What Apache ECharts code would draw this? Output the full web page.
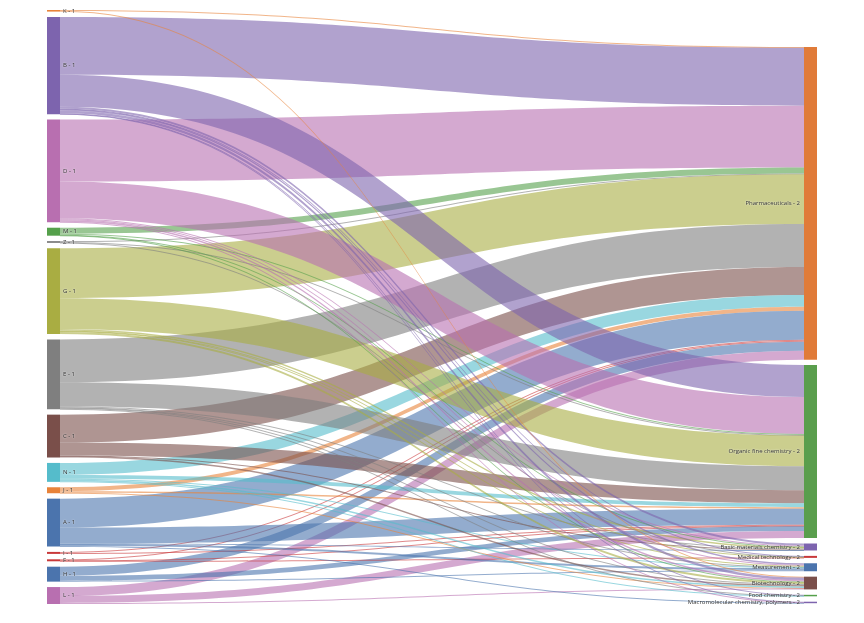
<!DOCTYPE html>
<html>
<head>
<meta charset="utf-8">
<script src="https://cdn.jsdelivr.net/npm/echarts@6/dist/echarts.min.js"></script>
<style>
html,body{margin:0;padding:0;background:#fff;}
#chart{width:864px;height:623px;}
</style>
</head>
<body>
<div id="chart"></div>
<script>
// Source nodes (left column, top to bottom)
const leftNodes = ['K - 1','B - 1','D - 1','M - 1','Z - 1','G - 1','E - 1','C - 1','N - 1','J - 1','A - 1','I - 1','F - 1','H - 1','L - 1'];
// Target nodes (right column, top to bottom)
const rightNodes = ['Pharmaceuticals - 2','Organic fine chemistry - 2','Basic materials chemistry - 2','Medical technology - 2','Measurement - 2','Biotechnology - 2','Food chemistry - 2','Macromolecular chemistry, polymers - 2'];

// Flow values from each left node (same order as leftNodes) to each target
const toPharmaceuticals = [0.8, 58, 62, 6, 0.8, 50, 43, 28, 12, 4, 29, 1, 1, 9, 9];
const toOrganicFine     = [0, 32, 37, 1, 0.5, 31, 24, 13, 4, 1.5, 16, 1, 0.5, 5, 7];
const toBasicMaterials  = [0, 2, 1, 0.5, 0, 1.5, 1, 0.5, 0, 0, 0.5, 0, 0, 0, 0];
const toMedicalTech     = [0, 0.5, 0, 0, 0.5, 0.5, 0, 0, 0, 0, 0, 0, 0.5, 0, 0];
const toMeasurement     = [0, 1.5, 1, 0, 0, 1, 0.5, 0, 1, 0, 2, 0, 0, 1, 0];
const toBiotechnology   = [0.8, 2.5, 1.5, 0.5, 0, 2, 1, 1.5, 1.5, 0.5, 0, 0, 0, 0, 1];
const toFoodChemistry   = [0, 0.5, 0, 0, 0, 0, 0.5, 0, 0.5, 0, 0, 0, 0, 0, 0];
const toMacromolecular  = [0, 0.5, 0.5, 0, 0, 0, 0, 0, 0, 0, 0.5, 0, 0, 0, 0];

const flowsByTarget = [toPharmaceuticals, toOrganicFine, toBasicMaterials, toMedicalTech,
                       toMeasurement, toBiotechnology, toFoodChemistry, toMacromolecular];

// Styles
const leftColors = ['#e8833a','#7d64ae','#b86fb0','#55a04b','#7f7f7f','#a9ad42','#7f7f7f','#7a4f4a','#55bccb','#e8833a','#4b74ad','#c9393a','#c9393a','#4b74ad','#b86fb0'];
const rightColors = ['#e07b39','#5a9e4d','#7d64ae','#c9393a','#4b74ad','#7a4f4a','#55a04b','#7d64ae'];

const labelBase = {
  fontSize: 6,
  color: '#333',
  fontFamily: 'Open Sans',
  textShadowColor: '#fff',
  textShadowBlur: 2
};

const nodes = [];
leftNodes.forEach((n, i) => {
  nodes.push({
    name: n,
    itemStyle: { color: leftColors[i] },
    label: Object.assign({ position: 'right', distance: 3 }, labelBase)
  });
});
// invisible layout spacer that pushes the right column down (as in the reference layout)
nodes.push({
  name: '__spacer__',
  depth: 1,
  value: 31.7,
  itemStyle: { color: 'rgba(0,0,0,0)', opacity: 0 },
  label: { show: false },
  emphasis: { disabled: true },
  tooltip: { show: false }
});
rightNodes.forEach((n, i) => {
  nodes.push({
    name: n,
    itemStyle: { color: rightColors[i] },
    label: Object.assign({ position: 'left', distance: 4 }, labelBase)
  });
});

const links = [];
flowsByTarget.forEach((arr, t) => {
  arr.forEach((v, s) => {
    if (v > 0) links.push({ source: leftNodes[s], target: rightNodes[t], value: v });
  });
});

const chart = echarts.init(document.getElementById('chart'), null, { renderer: 'canvas' });
chart.setOption({
  backgroundColor: '#ffffff',
  animation: false,
  series: [{
    type: 'sankey',
    left: 47,
    right: 47,
    top: 10,
    bottom: 19,
    nodeWidth: 13,
    nodeGap: 5.4,
    layoutIterations: 0,
    nodeAlign: 'justify',
    draggable: false,
    emphasis: { disabled: true },
    itemStyle: { borderWidth: 0 },
    lineStyle: { color: 'source', opacity: 0.6, curveness: 0.5 },
    data: nodes,
    links: links
  }]
});
</script>
</body>
</html>
